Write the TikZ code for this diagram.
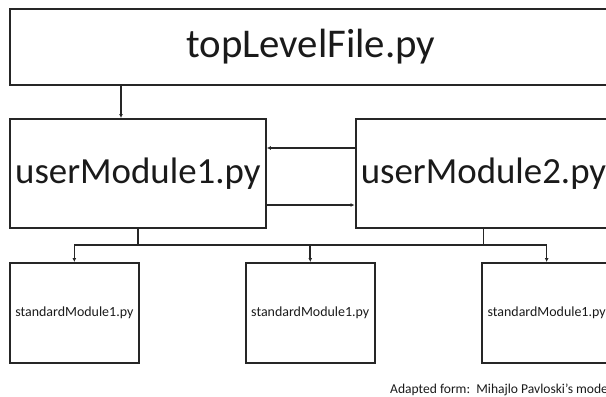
\documentclass[tikz,border=0pt]{standalone}
\usepackage{fontspec}
\setmainfont{Carlito}
\usetikzlibrary{arrows.meta}
\definecolor{ln}{HTML}{262626}
\definecolor{tx}{HTML}{1A1A1A}
\tikzset{
  box/.style={draw=ln, line width=2bp, rectangle, inner sep=0pt, text=tx, align=center},
  arr/.style={draw=ln, line width=1.6bp, -{Latex[length=4bp,width=4bp]}},
  ln/.style={draw=ln, line width=1.6bp},
}
\begin{document}
\begin{tikzpicture}[x=1bp,y=-1bp]
\useasboundingbox (0,0) rectangle (606,396);
\clip (0,0) rectangle (606,396);
\node[box, minimum width=602bp, minimum height=76bp, font=\fontsize{41}{41}\selectfont] (top) at (310.8,47) {topLevelFile.py};
\node[box, minimum width=256bp, minimum height=109bp, font=\fontsize{37}{37}\selectfont] (um1) at (137.85,173.5) {userModule1.py};
\node[box, minimum width=256bp, minimum height=109bp, font=\fontsize{37}{37}\selectfont] (um2) at (483.5,173.5) {userModule2.py};
\node[box, minimum width=129bp, minimum height=100bp, font=\fontsize{14}{14}\selectfont] (s1) at (74.35,313) {standardModule1.py};
\node[box, minimum width=129bp, minimum height=100bp, font=\fontsize{14}{14}\selectfont] (s2) at (310.25,313) {standardModule1.py};
\node[box, minimum width=129bp, minimum height=100bp, font=\fontsize{14}{14}\selectfont] (s3) at (546.65,313) {standardModule1.py};
\node[anchor=base west, inner sep=0pt, text=tx, font=\fontsize{13.6}{13.6}\selectfont] (credit) at (390,393) {Adapted form:\ \ Mihajlo Pavloski's model};
\coordinate (ax) at (121,100);
\coordinate (ay1) at (250,148);
\coordinate (ay2) at (250,205);
\coordinate (bus) at (300,245);
\draw[arr] (top.south -| ax) -- (um1.north -| ax);
\draw[arr] (um2.west |- ay1) -- (um1.east |- ay1);
\draw[arr] (um1.east |- ay2) -- (um2.west |- ay2);
\draw[ln] (um1.south) -- (um1.south |- bus);
\draw[ln] (um2.south) -- (um2.south |- bus);
\draw[ln] (s1.north |- bus) -- (s3.north |- bus);
\draw[arr] (s1.north |- bus) -- (s1.north);
\draw[arr] (s2.north |- bus) -- (s2.north);
\draw[arr] (s3.north |- bus) -- (s3.north);
\end{tikzpicture}
\end{document}
